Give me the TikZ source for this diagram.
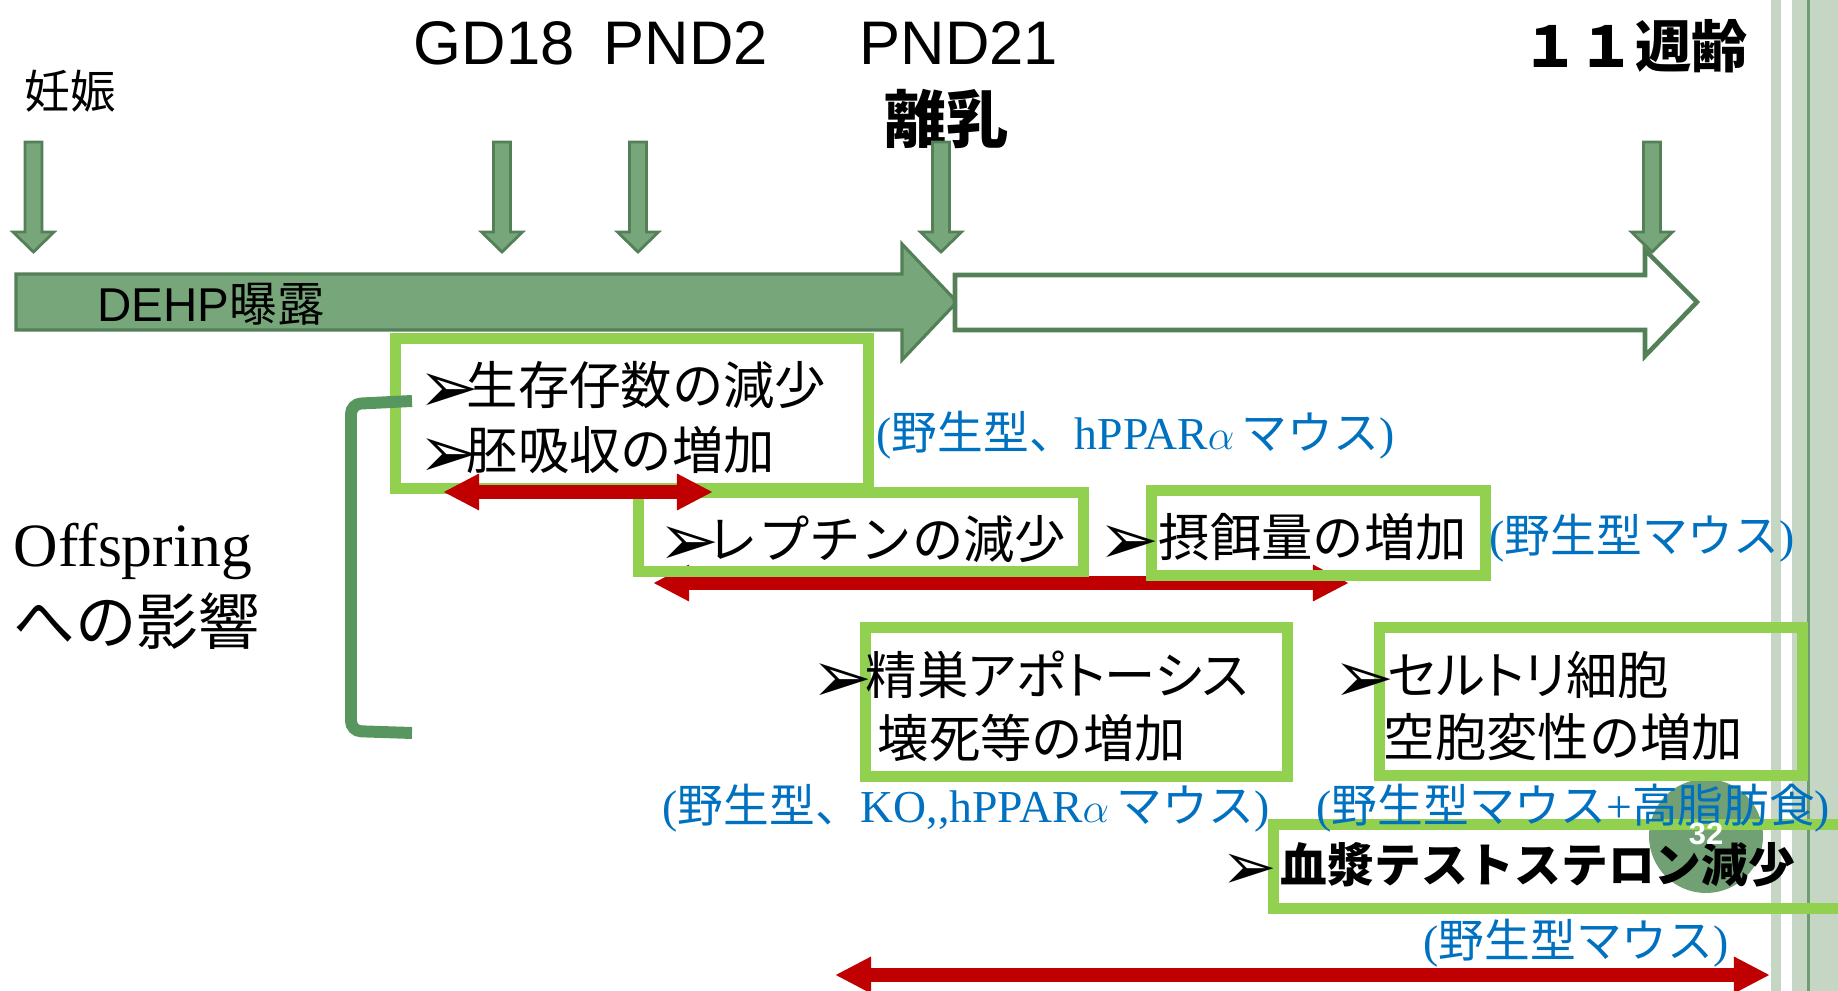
\documentclass[tikz,border=0pt]{standalone}
\usepackage{fontspec}
\setmainfont{Liberation Serif}
\newfontfamily\jp{Noto Sans CJK JP}
\newfontfamily\jpp{Noto Sans CJK JP}[RawFeature=+palt]
\newfontfamily\arial{Liberation Sans}
\newfontfamily\dvsans{DejaVu Sans}
\usetikzlibrary{arrows.meta}
\definecolor{boxgreen}{HTML}{92D050}
\definecolor{arrfill}{HTML}{76A67A}
\definecolor{arrdraw}{HTML}{548058}
\definecolor{brgreen}{HTML}{57965E}
\definecolor{effred}{HTML}{C00000}
\definecolor{mouseblue}{HTML}{0070C0}
\definecolor{stripe}{HTML}{C5D6C4}
\definecolor{stripeline}{HTML}{6E9E70}
\definecolor{numgreen}{HTML}{71A074}
\newcommand{\tri}{\makebox[4.8mm][l]{\raisebox{-0.75mm}{\scalebox{1.42}{\dvsans ➢}}}}
\newcommand{\ja}[1]{{\jp #1}}
\newcommand{\fs}[1]{\fontsize{#1}{#1}\selectfont}
\tikzset{
  gbox/.style={draw=boxgreen,line width=3.13pt},
  redarr/.style={draw=effred,line width=3.7pt,{Triangle[length=3.6mm,width=3.4mm]}-{Triangle[length=3.6mm,width=3.4mm]}},
  downarr/.style={fill=arrfill,draw=arrdraw,line width=0.8pt},
  txt/.style={inner sep=0pt,anchor=base west},
  boxtxt/.style={txt,font=\jp\fs{14.6}},
  bluetxt/.style={txt,text=mouseblue,font=\fs{13}}
}
\begin{document}
\begin{tikzpicture}[x=0.01cm,y=-0.01cm,line join=miter]
\useasboundingbox (0,0) rectangle (1838,991);
% right margin stripes
\fill[stripe] (1771,0) rectangle (1781,991);
\fill[stripe] (1792,0) rectangle (1838,991);
\draw[stripeline,line width=0.85pt] (1808,0) -- (1808,991);
% slide number disc
\fill[numgreen] (1706,836) circle (57);
% time line
\draw[downarr,line width=0.9pt] (16,274) -- (902,274) -- (902,244) -- (957,302) -- (902,360) -- (902,330) -- (16,330) -- cycle;
\draw[draw=arrdraw,fill=white,line width=1.3pt] (955,275) -- (1645,275) -- (1645,250) -- (1697,302) -- (1645,356) -- (1645,330) -- (955,330) -- cycle;
\node[txt,font=\fs{13.5}] (dehp) at (97,322) {{\arial DEHP}\ja{曝露}};
% labels above
\node[txt,font=\jp\fs{13}] (preg) at (24,109) {妊娠};
\node[txt,font=\arial\fs{17.5}] (gd18) at (413,65) {GD18};
\node[txt,font=\arial\fs{17.5}] (pnd2) at (603,65) {PND2};
\node[txt,font=\arial\fs{17.5}] (pnd21) at (859,65) {PND21};
\node[txt,font=\jp\bfseries\fs{17.7}] (wean) at (884,143) {離乳};
\node[txt,font=\jp\bfseries\fs{16}] (wk11) at (1522,68) {１１週齢};
\foreach \x in {33.5,502,638,941,1652}
  \draw[downarr] (\x-8.5,142) -- (\x+8.5,142) -- (\x+8.5,232) -- (\x+20.5,232) -- (\x,252) -- (\x-20.5,232) -- (\x-8.5,232) -- cycle;
% periods
\coordinate (r1l) at (443,492);
\coordinate (r1r) at (713,492);
\coordinate (r2l) at (653,583);
\coordinate (r2r) at (1349,583);
\coordinate (r3l) at (835,975);
\coordinate (r3r) at (1770,975);
\draw[redarr] (r2l) -- (r2r);
% effect boxes
\draw[gbox] (395.5,338.5) rectangle (868.5,488.5);
\draw[gbox] (638.5,492.5) rectangle (1083.5,571.5);
\draw[gbox] (1151.5,490.5) rectangle (1485.5,575.5);
\draw[gbox] (865.5,627.5) rectangle (1287.5,776.5);
\draw[gbox] (1379.5,627.5) rectangle (1802.5,775.5);
\draw[gbox] (1273.5,824.5) rectangle (1860,908.5);
\draw[brgreen,line width=3.4pt,rounded corners=1mm] (412,401) -- (351,404) -- (351,731) -- (412,733);
\draw[redarr] (r1l) -- (r1r);
\draw[redarr] (r3l) -- (r3r);
% texts
\node[txt,font=\fs{17.5}] (offs) at (13,567) {Offspring};
\node[txt,font=\jp\fs{17.5}] (infl) at (13,645) {への影響};
\node[boxtxt] (e1) at (418,405) {\tri 生存仔数の減少};
\node[boxtxt] (e2) at (418,470) {\tri 胚吸収の増加};
\node[bluetxt] (m1) at (876,450) {(\ja{野生型、}hPPAR$\alpha$\,\ja{マウス})};
\node[boxtxt] (e3) at (658,558) {\tri レプチンの減少};
\node[boxtxt] (e4) at (1098,557) {\tri\hspace{1.2mm}摂餌量の増加};
\node[bluetxt] (m2) at (1489,553) {(\ja{野生型マウス})};
\node[boxtxt] (e5) at (811,695) {\tri\hspace{0.6mm}{\jpp 精巣アポトーシス}};
\node[boxtxt] (e6) at (877,758) {壊死等の増加};
\node[boxtxt] (e7) at (1333,695) {\tri\hspace{0.6mm}{\jpp セルトリ細胞}};
\node[boxtxt] (e8) at (1383,756) {空胞変性の増加};
\node[bluetxt] (m3) at (662,822) {(\ja{野生型、}KO,{},hPPAR$\alpha$\,\ja{マウス})};
\node[bluetxt] (m4) at (1316,822) {(\ja{野生型マウス}+\ja{高脂肪食})};
\node[txt,font=\jp\bfseries\fs{13.3}] (e9) at (1221,882) {\tri\hspace{1.1mm}血漿テストステロン減少};
\node[bluetxt] (m5) at (1423,957) {(\ja{野生型マウス})};
\node[inner sep=0pt,text=white,font=\arial\bfseries\fs{8.8}] (pg) at (1706,834) {32};
\end{tikzpicture}
\end{document}
